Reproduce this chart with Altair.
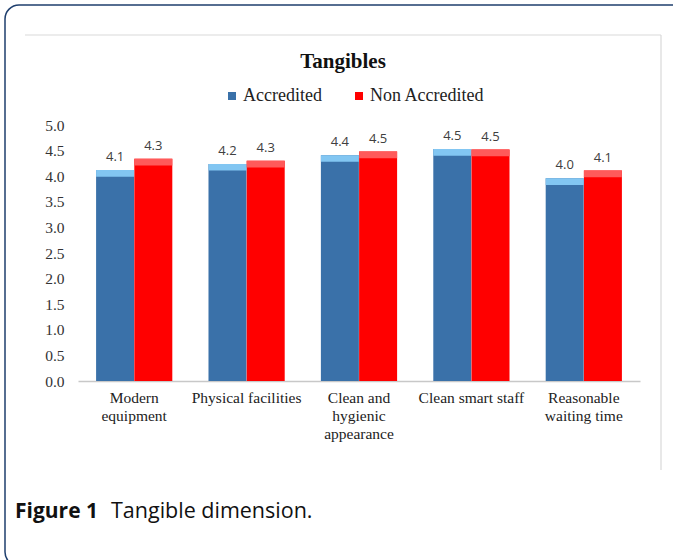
import json
import altair as alt
import pandas as pd

categories = ["Modern equipment", "Physical facilities", "Clean and hygienic appearance",
              "Clean smart staff", "Reasonable waiting time"]
label_lines = [["Modern", "equipment"], ["Physical facilities"], ["Clean and", "hygienic", "appearance"],
               ["Clean smart staff"], ["Reasonable", "waiting time"]]
series = ["Accredited", "Non Accredited"]
accredited = [4.12, 4.24, 4.41, 4.53, 3.96]
non_accredited = [4.34, 4.30, 4.48, 4.52, 4.11]
y_ticks = [0.0, 0.5, 1.0, 1.5, 2.0, 2.5, 3.0, 3.5, 4.0, 4.5, 5.0]
chart_title = "Tangibles"
caption_bold = "Figure 1"
caption_text = "Tangible dimension."

rows = []
for c, a, n in zip(categories, accredited, non_accredited):
    rows.append({"category": c, "series": series[0], "value": a})
    rows.append({"category": c, "series": series[1], "value": n})
df = pd.DataFrame(rows)

BLUE = "#3A71A9"
RED = "#FF0000"
BLUE_TOP = "#82C6F2"
RED_TOP = "#FF5A5A"
SERIF = "Liberation Serif"
SANS = "Open Sans"

W, H = 562, 256
PL, PT = 78, 125

label_map = json.dumps(dict(zip(categories, label_lines)))

x_enc = alt.X("category:N", sort=categories,
              scale=alt.Scale(paddingInner=0.32, paddingOuter=0.16),
              axis=alt.Axis(title=None, labelAngle=0, labelFont=SERIF, labelFontSize=15.5,
                            labelColor="#222222", labelPadding=9, labelLineHeight=18,
                            labelLimit=300, ticks=False, domainColor="#C8C8C8",
                            domainWidth=1.5, labelExpr=label_map + "[datum.label]"))
xo_enc = alt.XOffset("series:N", sort=series, scale=alt.Scale(paddingInner=0, paddingOuter=0))
y_enc = alt.Y("value:Q", scale=alt.Scale(domain=[0, 5], nice=False),
              axis=alt.Axis(title=None, values=y_ticks, format=".1f", domain=False, ticks=False,
                            grid=False, labelFont=SERIF, labelFontSize=15.5, labelColor="#333333",
                            labelPadding=14, labelOverlap=False))

base = alt.Chart(df).encode(x=x_enc, xOffset=xo_enc, y=y_enc)

bars = base.mark_bar(size=38).encode(
    color=alt.Color("series:N", sort=series,
                    scale=alt.Scale(domain=series, range=[BLUE, RED]),
                    legend=alt.Legend(title=None, orient="none", direction="horizontal",
                                      legendX=145, legendY=-38, symbolType="square",
                                      symbolSize=64, symbolStrokeWidth=0,
                                      labelFont=SERIF, labelFontSize=18, labelColor="#222222",
                                      labelOffset=2, columnPadding=28)),
)

tops = base.transform_calculate(
    top2="datum.value - 0.13",
    topcolor="datum.series == 'Accredited' ? '%s' : '%s'" % (BLUE_TOP, RED_TOP),
).mark_bar(size=38).encode(
    y2="top2:Q",
    color=alt.Color("topcolor:N", scale=None, legend=None),
)

labels = base.mark_text(font=SANS, fontSize=13, color="#404040", dy=-9, baseline="alphabetic").encode(
    text=alt.Text("value:Q", format=".1f"),
)

frame_df = pd.DataFrame({"k": [0]})
outer = alt.Chart(frame_df).mark_rect(cornerRadius=14, fill="white", fillOpacity=0,
                                       stroke="#1F3F6E", strokeWidth=1.5).encode(
    x=alt.value(5 - PL), x2=alt.value(686 - PL),
    y=alt.value(5 - PT), y2=alt.value(566 - PT))
inner_top = alt.Chart(frame_df).mark_rule(color="#D9D9D9", strokeWidth=1.2).encode(
    x=alt.value(25 - PL), x2=alt.value(661 - PL), y=alt.value(35 - PT))
inner_right = alt.Chart(frame_df).mark_rule(color="#D9D9D9", strokeWidth=1.2).encode(
    x=alt.value(661 - PL), y=alt.value(35 - PT), y2=alt.value(470 - PT))

title_mark = alt.Chart(frame_df).mark_text(text=chart_title, font=SERIF, fontSize=21, fontWeight="bold",
                                           align="center", baseline="middle", color="#111111").encode(
    x=alt.value(343 - PL), y=alt.value(62 - PT))

cap1 = alt.Chart(frame_df).mark_text(text=caption_bold, font=SANS, fontSize=21, fontWeight="bold",
                                     align="left", baseline="alphabetic", color="#111111").encode(
    x=alt.value(15 - PL), y=alt.value(518 - PT))
cap2 = alt.Chart(frame_df).mark_text(text=caption_text, font=SANS, fontSize=21.5,
                                     align="left", baseline="alphabetic", color="#111111").encode(
    x=alt.value(111 - PL), y=alt.value(518 - PT))

chart = alt.layer(bars, tops, labels, outer, inner_top, inner_right, title_mark, cap1, cap2).properties(
    width=W, height=H,
    background="white",
    autosize=alt.AutoSizeParams(type="none"),
    padding={"left": PL, "top": PT, "right": 673 - PL - W, "bottom": 560 - PT - H},
).configure_view(stroke=None, strokeWidth=0)

chart.save("out.html", embed_options={"renderer": "svg", "actions": False})
